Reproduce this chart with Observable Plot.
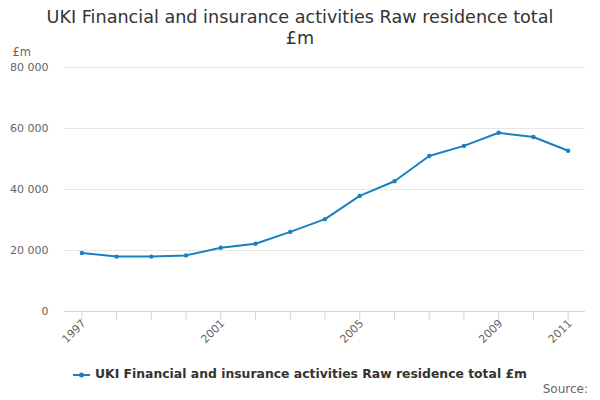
<!DOCTYPE html>
<html>
<head>
<meta charset="utf-8">
<script src="https://cdn.jsdelivr.net/npm/d3@7"></script>
<script src="https://cdn.jsdelivr.net/npm/@observablehq/plot@0.6"></script>
<style>
  html, body { margin: 0; padding: 0; background: #fff; }
  body { width: 600px; height: 400px; overflow: hidden; font-family: "DejaVu Sans", sans-serif; position: relative; }
  #title { position: absolute; top: 7px; left: 40px; width: 520px; text-align: center; font-size: 17.6px; line-height: 21px; color: #333; }
  #chart { position: absolute; top: 40px; left: 0; }
  #legend { position: absolute; top: 366px; left: 0; width: 600px; text-align: center; font-size: 12.4px; font-weight: bold; color: #333; }
  #legend svg { vertical-align: middle; margin-right: 5px; }
  #source { position: absolute; top: 382px; right: 12px; font-size: 12px; color: #666; }
</style>
</head>
<body>
<div id="title">UKI Financial and insurance activities Raw residence total £m</div>
<div id="chart"></div>
<div id="legend"><svg width="17" height="10"><line x1="0" y1="5" x2="17" y2="5" stroke="#1a7fc3" stroke-width="2"/><circle cx="8.5" cy="5" r="2.5" fill="#1a7fc3"/></svg>UKI Financial and insurance activities Raw residence total £m</div>
<div id="source">Source:</div>
<script>
const years = [1997,1998,1999,2000,2001,2002,2003,2004,2005,2006,2007,2008,2009,2010,2011];
const values = [19200,18000,18000,18400,20900,22200,26100,30300,37900,42700,51000,54300,58600,57200,52700];
const labelYears = [1997,2001,2005,2009,2011];
const yTicks = [0,20000,40000,60000,80000];
const unitLabel = "£m";
const color = "#1a7fc3";

const data = years.map((y, i) => ({year: y, value: values[i]}));
const fmt = d3.formatLocale({thousands: " ", grouping: [3], decimal: "."}).format(",");

const chart = Plot.plot({
  width: 600,
  height: 315,
  marginLeft: 64,
  marginRight: 15,
  marginTop: 27,
  marginBottom: 44,
  style: {fontFamily: "DejaVu Sans, sans-serif", fontSize: "11px", color: "#666", background: "transparent"},
  x: {type: "linear", domain: [years[0] - 0.5, years[years.length - 1] + 0.5]},
  y: {domain: [0, 80000]},
  marks: [
    Plot.gridY(yTicks, {stroke: "#e6e6e6", strokeOpacity: 1}),
    Plot.axisY(yTicks, {tickSize: 0, tickPadding: 16, tickFormat: fmt, label: null, fill: "#666"}),
    Plot.axisX(years, {tickSize: 9, tickFormat: () => "", stroke: "#ccd6eb", label: null}),
    Plot.axisX(labelYears, {tickSize: 0, tickPadding: 10, dx: 2, tickRotate: -45, label: null, fill: "#666", tickFormat: d => String(d)}),
    Plot.ruleY([0], {stroke: "#ccd6eb"}),
    Plot.text([unitLabel], {frameAnchor: "top-left", dx: -52, dy: -20, textAnchor: "start", fill: "#666", fontSize: 11.5}),
    Plot.line(data, {x: "year", y: "value", stroke: color, strokeWidth: 2}),
    Plot.dot(data, {x: "year", y: "value", fill: color, r: 2.2})
  ]
});
document.getElementById("chart").appendChild(chart);
</script>
</body>
</html>
